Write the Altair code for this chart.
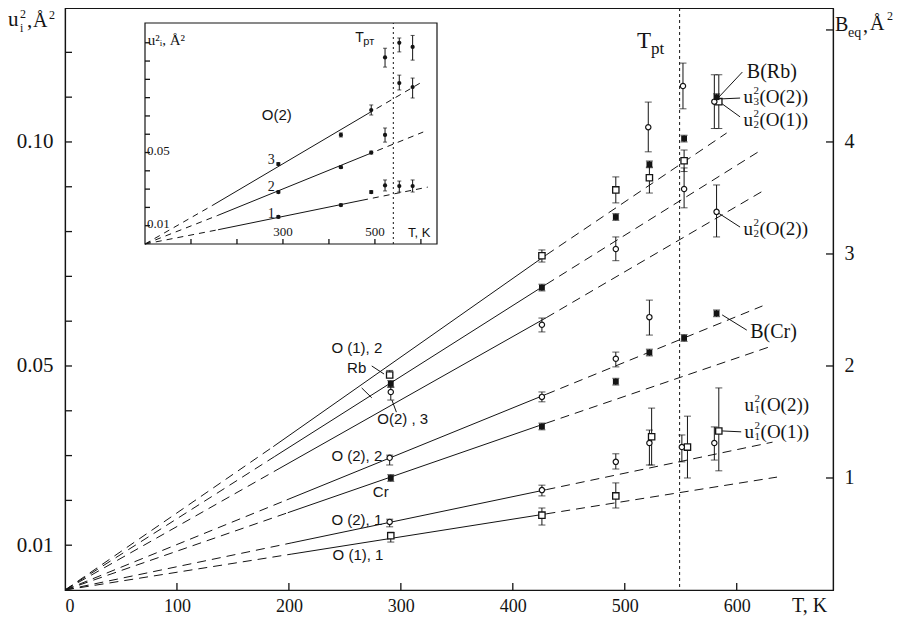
import altair as alt
import pandas as pd

SERIF = "Liberation Serif"
SANS = "Liberation Sans"
INK = "#141414"

# ---------------- geometry of the frame ----------------
W, H = 768, 582
X_MAX = 686.0      # T, K at right frame
U_MAX = 0.1299     # u^2, A^2 at top frame
B_PER_U = 40.0     # right axis B_eq = 40 * u^2 on this figure
T_PT = 549

# ---------------- main figure: points (T, value, err low, err high) ----------------
# u2^2(O(1)) open squares
O12_T = [290, 426, 492, 522, 553, 584]
O12_V = [0.0480, 0.0746, 0.0893, 0.0920, 0.0958, 0.1090]
O12_LO = [0.0474, 0.0732, 0.0864, 0.0886, 0.0934, 0.1030]
O12_HI = [0.0490, 0.0759, 0.0922, 0.0944, 0.0982, 0.1150]
# B(Rb) filled squares (B units)
RB_T = [291, 426, 492, 522, 553, 582]
RB_V = [1.84, 2.70, 3.33, 3.80, 4.03, 4.40]
RB_LO = [1.81, 2.67, 3.30, 3.77, 4.00, 4.37]
RB_HI = [1.87, 2.73, 3.36, 3.83, 4.06, 4.43]
# u3^2(O(2)) open circles
O23_T = [291, 426, 492, 521, 552, 580]
O23_V = [0.0442, 0.0592, 0.0761, 0.1033, 0.1125, 0.1090]
O23_LO = [0.0424, 0.0576, 0.0735, 0.0978, 0.1074, 0.1030]
O23_HI = [0.0453, 0.0607, 0.0788, 0.1089, 0.1176, 0.1150]
# u2^2(O(2)) open circles
O22_T = [290, 426, 492, 522, 553, 582]
O22_V = [0.0295, 0.0431, 0.0516, 0.0609, 0.0895, 0.0844]
O22_LO = [0.0279, 0.0420, 0.0498, 0.0569, 0.0853, 0.0788]
O22_HI = [0.0301, 0.0442, 0.0531, 0.0647, 0.0942, 0.0904]
# B(Cr) filled squares (B units)
CR_T = [291, 426, 492, 522, 553, 582]
CR_V = [1.00, 1.46, 1.86, 2.12, 2.25, 2.47]
CR_LO = [0.97, 1.43, 1.83, 2.09, 2.22, 2.44]
CR_HI = [1.03, 1.49, 1.89, 2.15, 2.28, 2.50]
# u1^2(O(2)) open circles
O21_T = [290, 426, 492, 522, 551, 580]
O21_V = [0.0152, 0.0223, 0.0286, 0.0328, 0.0319, 0.0328]
O21_LO = [0.0141, 0.0210, 0.0270, 0.0279, 0.0286, 0.0290]
O21_HI = [0.0158, 0.0234, 0.0304, 0.0357, 0.0346, 0.0364]
# u1^2(O(1)) open squares
O11_T = [291, 426, 492, 524, 556, 584]
O11_V = [0.0121, 0.0167, 0.0210, 0.0342, 0.0319, 0.0355]
O11_LO = [0.0107, 0.0145, 0.0183, 0.0279, 0.0250, 0.0266]
O11_HI = [0.0129, 0.0183, 0.0239, 0.0406, 0.0388, 0.0451]

# ---------------- main figure: straight lines (origin, solid start, solid end, dashed end) ----------------
LN_O12_T = [0, 186, 430, 591]
LN_O12_V = [0, 0.0320, 0.0748, 0.1020]
LN_RB_T = [0, 187, 430, 619]
LN_RB_V = [0, 1.19, 2.73, 3.91]
LN_O23_T = [0, 192, 430, 623]
LN_O23_V = [0, 0.0272, 0.0608, 0.0890]
LN_O22_T = [0, 198, 430, 623]
LN_O22_V = [0, 0.0201, 0.0437, 0.0634]
LN_CR_T = [0, 199, 430, 629]
LN_CR_V = [0, 0.69, 1.49, 2.17]
LN_O21_T = [0, 202, 430, 632]
LN_O21_V = [0, 0.0105, 0.0224, 0.0330]
LN_O11_T = [0, 202, 430, 636]
LN_O11_V = [0, 0.0080, 0.0170, 0.0252]

# ---------------- inset: O(2) u_i^2 ----------------
INS_T_MAX = 635.0
INS_U_MAX = 0.1208
INS_T_PT = 540
INS_T = [290, 426, 492, 522, 553, 582]
INS_U3 = [0.0437, 0.0596, 0.0732, 0.1020, 0.1100, 0.1077]
INS_U3_LO = [0.0430, 0.0585, 0.0705, 0.0967, 0.1050, 0.1005]
INS_U3_HI = [0.0445, 0.0607, 0.0760, 0.1070, 0.1126, 0.1140]
INS_U2 = [0.0284, 0.0420, 0.0500, 0.0596, 0.0880, 0.0858]
INS_U2_LO = [0.0278, 0.0413, 0.0492, 0.0557, 0.0842, 0.0798]
INS_U2_HI = [0.0290, 0.0427, 0.0508, 0.0634, 0.0923, 0.0907]
INS_U1 = [0.0148, 0.0213, 0.0284, 0.0320, 0.0317, 0.0317]
INS_U1_LO = [0.0142, 0.0207, 0.0276, 0.0290, 0.0284, 0.0284]
INS_U1_HI = [0.0154, 0.0219, 0.0292, 0.0350, 0.0344, 0.0350]
INS_L3_T = [0, 146, 483, 602]
INS_L3_V = [0, 0.0210, 0.0710, 0.0885]
INS_L2_T = [0, 157, 483, 605]
INS_L2_V = [0, 0.0155, 0.0488, 0.0612]
INS_L1_T = [0, 159, 472, 615]
INS_L1_V = [0, 0.0078, 0.0239, 0.0311]

# ---------------- axis tick values ----------------
X_LABELS = [0, 100, 200, 300, 400, 500, 600]
X_TICKS = [100, 200, 300, 400, 500, 600]
YL_LABELS = [0.01, 0.05, 0.10]
YL_TICKS = [0.01, 0.02, 0.03, 0.04, 0.05, 0.06, 0.07, 0.08, 0.09, 0.10, 0.11, 0.12]
YR_LABELS = [0.025, 0.05, 0.075, 0.10]          # B = 1..4
YR_TICKS = [0.025, 0.05, 0.075, 0.10, 0.125]    # B = 1..5
IX_TICKS = [100, 200, 300, 400, 500, 600]
IX_LABELS = [300, 500]
IY_TICKS = [0.01, 0.02, 0.03, 0.04, 0.05, 0.06, 0.07, 0.08, 0.09, 0.10, 0.11]
IY_LABELS = [0.01, 0.05]

# ---------------- annotations ----------------
SANS_TEXT = ["O (1), 2", "Rb", "O(2) , 3", "O (2), 2", "Cr", "O (2), 1", "O (1), 1"]
SANS_T = [238, 252, 279, 238, 275, 238, 239]
SANS_V = [0.0540, 0.0496, 0.0382, 0.0299, 0.0219, 0.0156, 0.0078]

LEAD_T1 = [274, 265, 296, 605, 603, 603, 603, 609, 604]
LEAD_V1 = [0.0500, 0.0451, 0.0397, 0.1156, 0.1098, 0.1056, 0.0810, 0.0580, 0.0353]
LEAD_T2 = [285, 274, 292, 584, 585, 587, 582, 587, 587]
LEAD_V2 = [0.0482, 0.0429, 0.0424, 0.1100, 0.1096, 0.1085, 0.0844, 0.0614, 0.0355]

BLAB_TEXT = ["B(Rb)", "B(Cr)"]
BLAB_T = [609, 612]
BLAB_V = [0.1156, 0.0576]

ULAB_SUB = ["3", "2", "2", "1", "1"]
ULAB_REST = ["(O(2))", "(O(1))", "(O(2))", "(O(2))", "(O(1))"]
ULAB_T = [606, 606, 606, 607, 607]
ULAB_V = [0.1100, 0.1050, 0.0806, 0.0414, 0.0352]

TPT_LAB_T = [511]
TPT_LAB_V = [0.1225]

INS_NUM_TEXT = ["3", "2", "1"]
INS_NUM_T = [267, 267, 267]
INS_NUM_V = [0.0459, 0.0311, 0.0164]

TITLE_TEXT = ["u", "2", "i", ",", "Å", "2", "B", "eq", ",", "Å", "2", "T, K"]
TITLE_PX = [-57, -45, -45, -38, -32, -16, 770, 783, 798, 805, 822, 727]
TITLE_PY = [12, 6, 20, 13, 13, 7, 17, 25, 18, 16, 8, 598]
TITLE_FS = [21, 12, 12, 21, 20, 12, 20, 14, 20, 20, 12, 20]

# ---------------- tables ----------------
def pts(kind, T, V, LO, HI, f=1.0):
    return pd.DataFrame({"kind": kind, "T": T, "v": [x / f for x in V],
                         "lo": [x / f for x in LO], "hi": [x / f for x in HI]})

points = pd.concat([
    pts("osq", O12_T, O12_V, O12_LO, O12_HI),
    pts("fsq", RB_T, RB_V, RB_LO, RB_HI, B_PER_U),
    pts("oci", O23_T, O23_V, O23_LO, O23_HI),
    pts("oci", O22_T, O22_V, O22_LO, O22_HI),
    pts("fsq", CR_T, CR_V, CR_LO, CR_HI, B_PER_U),
    pts("oci", O21_T, O21_V, O21_LO, O21_HI),
    pts("osq", O11_T, O11_V, O11_LO, O11_HI),
], ignore_index=True)


def line_rows(name, T, V, f=1.0):
    rows = []
    for seg, style, a, b in [("a", "dash", 0, 1), ("b", "solid", 1, 2), ("c", "dash", 2, 3)]:
        for i in (a, b):
            rows.append({"seg": name + seg, "style": style, "T": T[i], "v": V[i] / f})
    return rows


lines = pd.DataFrame(
    line_rows("o12", LN_O12_T, LN_O12_V) + line_rows("rb", LN_RB_T, LN_RB_V, B_PER_U)
    + line_rows("o23", LN_O23_T, LN_O23_V) + line_rows("o22", LN_O22_T, LN_O22_V)
    + line_rows("cr", LN_CR_T, LN_CR_V, B_PER_U) + line_rows("o21", LN_O21_T, LN_O21_V)
    + line_rows("o11", LN_O11_T, LN_O11_V))

ins_points = pd.concat([
    pts("p", INS_T, INS_U3, INS_U3_LO, INS_U3_HI),
    pts("p", INS_T, INS_U2, INS_U2_LO, INS_U2_HI),
    pts("p", INS_T, INS_U1, INS_U1_LO, INS_U1_HI),
], ignore_index=True)
ins_lines = pd.DataFrame(line_rows("l3", INS_L3_T, INS_L3_V) + line_rows("l2", INS_L2_T, INS_L2_V)
                         + line_rows("l1", INS_L1_T, INS_L1_V))

# ---------------- scales & axes ----------------
XS = alt.Scale(domain=[0, X_MAX], nice=False, zero=False)
YS = alt.Scale(domain=[0, U_MAX], nice=False, zero=False)
IXS = alt.Scale(domain=[0, INS_T_MAX], range=[80, 372], nice=False, zero=False)
IYS = alt.Scale(domain=[0, INS_U_MAX], range=[236, 15], nice=False, zero=False)

AX_X = alt.Axis(orient="bottom", values=X_LABELS, ticks=False, domain=True, title=None,
                labelFont=SERIF, labelFontSize=18, labelPadding=7)
AX_YL = alt.Axis(orient="left", values=YL_LABELS, format=".2f", ticks=False, domain=True,
                 title=None, labelFont=SERIF, labelFontSize=21, labelPadding=12)
AX_YR = alt.Axis(orient="right", values=YR_LABELS, labelExpr="format(datum.value*40, 'd')",
                 ticks=False, domain=True, title=None, labelFont=SERIF, labelFontSize=20,
                 labelPadding=11)

# inward tick glyphs (unit paths, length = sqrt(size)/2)
UP, RIGHT, LEFT = "M0,0L0,-1", "M0,0L1,0", "M0,0L-1,0"


def X(field="T", ax=None):
    return alt.X(f"{field}:Q", scale=XS, axis=ax)


def Y(field="v", ax=None):
    return alt.Y(f"{field}:Q", scale=YS, axis=ax)


def IX(field="T"):
    return alt.X(f"{field}:Q", scale=IXS, axis=None)


def IY(field="v"):
    return alt.Y(f"{field}:Q", scale=IYS, axis=None)


def tick_layer(T, V, shape, size, xf, yf):
    df = pd.DataFrame({"T": T, "v": V})
    return alt.Chart(df).mark_point(shape=shape, size=size, filled=False, strokeWidth=1.3,
                                    color=INK, opacity=1).encode(x=xf(), y=yf())


# ---------------- main layers ----------------
dash = alt.Chart(lines).transform_filter("datum.style == 'dash'").mark_line(
    strokeDash=[9, 6], strokeWidth=1, color=INK).encode(
    x=X("T", AX_X), y=Y("v", AX_YL), detail="seg:N")
solid = alt.Chart(lines).transform_filter("datum.style == 'solid'").mark_line(
    strokeWidth=1, color=INK).encode(
    x=X("T"), y=Y("v", AX_YR), detail="seg:N")
x_ticks = tick_layer(X_TICKS, 0, UP, 196, X, Y)
yl_ticks = tick_layer(0, YL_TICKS, RIGHT, 196, X, Y)
yr_ticks = tick_layer(X_MAX, YR_TICKS, LEFT, 196, X, Y)
err = alt.Chart(points).mark_rule(strokeWidth=1, color=INK).encode(
    x=X(), y=Y("lo"), y2="hi:Q")
cap_lo = alt.Chart(points).mark_point(shape="stroke", size=49, strokeWidth=1, color=INK).encode(
    x=X(), y=Y("lo"))
cap_hi = alt.Chart(points).mark_point(shape="stroke", size=49, strokeWidth=1, color=INK).encode(
    x=X(), y=Y("hi"))
osq = alt.Chart(points).transform_filter("datum.kind == 'osq'").mark_point(
    shape="square", size=40, filled=True, fill="white", stroke=INK, strokeWidth=1.3, opacity=1).encode(
    x=X(), y=Y())
oci = alt.Chart(points).transform_filter("datum.kind == 'oci'").mark_point(
    shape="circle", size=28, filled=True, fill="white", stroke=INK, strokeWidth=1.2, opacity=1).encode(
    x=X(), y=Y())
fsq = alt.Chart(points).transform_filter("datum.kind == 'fsq'").mark_point(
    shape="square", size=34, filled=True, color=INK, opacity=1).encode(x=X(), y=Y())
tpt = alt.Chart(pd.DataFrame({"T": [T_PT]})).mark_rule(
    strokeDash=[3, 3], strokeWidth=1, color=INK).encode(x=X())

leaders = alt.Chart(pd.DataFrame({"T": LEAD_T1, "v": LEAD_V1, "T2": LEAD_T2, "v2": LEAD_V2})).mark_rule(
    strokeWidth=1, color=INK).encode(x=X(), y=Y(), x2="T2:Q", y2="v2:Q")

sans_lab = alt.Chart(pd.DataFrame({"T": SANS_T, "v": SANS_V, "text": SANS_TEXT})).mark_text(
    font=SANS, fontSize=15, align="left", baseline="middle", color=INK).encode(
    x=X(), y=Y(), text="text:N")
b_lab = alt.Chart(pd.DataFrame({"T": BLAB_T, "v": BLAB_V, "text": BLAB_TEXT})).mark_text(
    font=SERIF, fontSize=20, align="left", baseline="middle", color=INK).encode(
    x=X(), y=Y(), text="text:N")
udf = pd.DataFrame({"T": ULAB_T, "v": ULAB_V, "sub": ULAB_SUB, "rest": ULAB_REST})
u_main = alt.Chart(udf).mark_text(text="u", font=SERIF, fontSize=19, align="left",
                                  baseline="middle", color=INK).encode(x=X(), y=Y())
u_sup = alt.Chart(udf).mark_text(text="2", font=SERIF, fontSize=11, align="left", dx=10, dy=-6,
                                 baseline="middle", color=INK).encode(x=X(), y=Y())
u_sub = alt.Chart(udf).mark_text(font=SERIF, fontSize=11, align="left", dx=10, dy=5,
                                 baseline="middle", color=INK).encode(x=X(), y=Y(), text="sub:N")
u_rest = alt.Chart(udf).mark_text(font=SERIF, fontSize=19, align="left", dx=16,
                                  baseline="middle", color=INK).encode(x=X(), y=Y(), text="rest:N")
tdf = pd.DataFrame({"T": TPT_LAB_T, "v": TPT_LAB_V})
tpt_T = alt.Chart(tdf).mark_text(text="T", font=SERIF, fontSize=23, align="left",
                                 baseline="middle", color=INK).encode(x=X(), y=Y())
tpt_sub = alt.Chart(tdf).mark_text(text="pt", font=SERIF, fontSize=17, align="left", dx=14, dy=8,
                                   baseline="middle", color=INK).encode(x=X(), y=Y())

titles = alt.Chart(pd.DataFrame({"px": TITLE_PX, "py": TITLE_PY, "text": TITLE_TEXT,
                                 "fs": TITLE_FS})).mark_text(
    font=SERIF, align="left", baseline="middle", color=INK).encode(
    x=alt.X("px:Q", scale=None, axis=None), y=alt.Y("py:Q", scale=None, axis=None),
    text="text:N", size=alt.Size("fs:Q", scale=None, legend=None))

main = alt.layer(dash, solid, x_ticks, yl_ticks, yr_ticks, err, cap_lo, cap_hi, tpt, leaders,
                 osq, oci, fsq, sans_lab, b_lab, u_main, u_sup, u_sub, u_rest, tpt_T, tpt_sub,
                 titles).resolve_axis(x="independent", y="independent")

# ---------------- inset layers ----------------
frame = alt.Chart(pd.DataFrame({"x0": [0], "x1": [INS_T_MAX], "y0": [0], "y1": [INS_U_MAX]})).mark_rect(
    fillOpacity=0, stroke=INK, strokeWidth=1.2).encode(
    x=IX("x0"), x2="x1:Q", y=IY("y0"), y2="y1:Q")
i_xticks = tick_layer(IX_TICKS, 0, UP, 100, IX, IY)
i_yticks = tick_layer(0, IY_TICKS, RIGHT, 100, IX, IY)
i_xlab = alt.Chart(pd.DataFrame({"T": IX_LABELS, "v": 0, "text": [str(t) for t in IX_LABELS]})).mark_text(
    font=SERIF, fontSize=13, align="center", baseline="bottom", dy=-5, color=INK).encode(
    x=IX(), y=IY(), text="text:N")
i_ylab = alt.Chart(pd.DataFrame({"T": 0, "v": IY_LABELS, "text": ["%.2f" % v for v in IY_LABELS]})).mark_text(
    font=SERIF, fontSize=13, align="left", baseline="middle", dx=2, dy=-2, color=INK).encode(
    x=IX(), y=IY(), text="text:N")
i_dash = alt.Chart(ins_lines).transform_filter("datum.style == 'dash'").mark_line(
    strokeDash=[6, 5], strokeWidth=1, color=INK).encode(x=IX(), y=IY(), detail="seg:N")
i_solid = alt.Chart(ins_lines).transform_filter("datum.style == 'solid'").mark_line(
    strokeWidth=1, color=INK).encode(x=IX(), y=IY(), detail="seg:N")
i_err = alt.Chart(ins_points).mark_rule(strokeWidth=1, color=INK).encode(
    x=IX(), y=IY("lo"), y2="hi:Q")
i_cap_lo = alt.Chart(ins_points).mark_point(shape="stroke", size=16, strokeWidth=1, color=INK).encode(
    x=IX(), y=IY("lo"))
i_cap_hi = alt.Chart(ins_points).mark_point(shape="stroke", size=16, strokeWidth=1, color=INK).encode(
    x=IX(), y=IY("hi"))
i_pts = alt.Chart(ins_points).mark_point(shape="circle", size=18, filled=True, color=INK,
                                         opacity=1).encode(x=IX(), y=IY())
i_tpt = alt.Chart(pd.DataFrame({"T": [INS_T_PT], "v": [0], "v2": [INS_U_MAX]})).mark_rule(
    strokeDash=[2, 3], strokeWidth=1, color=INK).encode(x=IX(), y=IY(), y2="v2:Q")
i_nums = alt.Chart(pd.DataFrame({"T": INS_NUM_T, "v": INS_NUM_V, "text": INS_NUM_TEXT})).mark_text(
    font=SERIF, fontSize=14, align="left", baseline="middle", color=INK).encode(
    x=IX(), y=IY(), text="text:N")
i_o2 = alt.Chart(pd.DataFrame({"T": [254], "v": [0.0705]})).mark_text(
    text="O(2)", font=SANS, fontSize=15, align="left", baseline="middle", color=INK).encode(x=IX(), y=IY())
i_tk = alt.Chart(pd.DataFrame({"T": [572], "v": [0.0062]})).mark_text(
    text="T, K", font=SANS, fontSize=13, align="left", baseline="middle", color=INK).encode(x=IX(), y=IY())
i_tT = alt.Chart(pd.DataFrame({"T": [457], "v": [0.1126]})).mark_text(
    text="T", font=SANS, fontSize=14, align="left", baseline="middle", color=INK).encode(x=IX(), y=IY())
i_tsub = alt.Chart(pd.DataFrame({"T": [457], "v": [0.1126]})).mark_text(
    text="pт", font=SANS, fontSize=11, align="left", dx=8, dy=4, baseline="middle", color=INK).encode(
    x=IX(), y=IY())
i_title = alt.Chart(pd.DataFrame({"T": [6], "v": [0.1115]})).mark_text(
    text="u²ᵢ, Å²", font=SERIF, fontSize=15, align="left", baseline="middle", color=INK).encode(
    x=IX(), y=IY())

inset = alt.layer(frame, i_xticks, i_yticks, i_xlab, i_ylab, i_dash, i_solid, i_tpt, i_err,
                  i_cap_lo, i_cap_hi, i_pts, i_nums, i_o2, i_tk, i_tT, i_tsub, i_title)

chart = alt.layer(main, inset).resolve_scale(x="independent", y="independent").properties(
    width=W, height=H,
    padding={"left": 57, "top": 0, "right": 61, "bottom": 26},
    autosize=alt.AutoSizeParams(type="none"),
    background="white",
).configure_view(stroke=INK, strokeWidth=1.2).configure_axis(
    grid=False, domainColor=INK, tickColor=INK, labelColor=INK, domainWidth=1.2, tickWidth=1.2)

chart.save("out.html", embed_options={"renderer": "svg", "actions": False})
